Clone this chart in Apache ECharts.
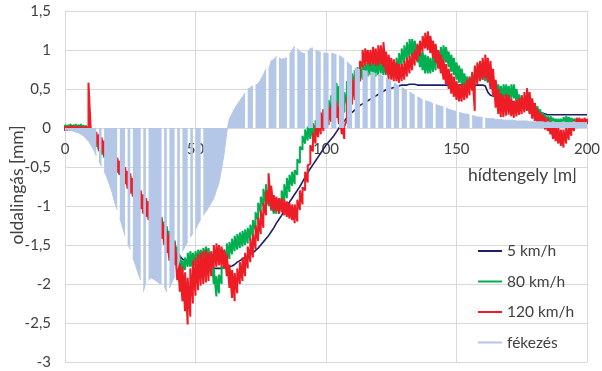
<!DOCTYPE html>
<html><head><meta charset="utf-8">
<script src="https://cdn.jsdelivr.net/npm/echarts@6/dist/echarts.min.js"></script>
<style>html,body{margin:0;padding:0;background:#fff}#c{width:602px;height:371px}</style>
</head><body><div id="c"></div>
<script>
// x positions along the bridge axis [m], one sample per metre (0..200)
const xTicks = [0, 50, 100, 150, 200];
const yTicks = [-3, -2.5, -2, -1.5, -1, -0.5, 0, 0.5, 1, 1.5];
const seriesNames = ['5 km/h', '80 km/h', '120 km/h', 'fékezés'];
const xAxisTitle = 'hídtengely [m]';
const yAxisTitle = 'oldalingás [mm]';

const kmh5 = [
 0.01,0.01,0.01,0.0,0.0,0.0,0.0,0.0,0.0,-0.02,
 -0.06,-0.12,-0.18,-0.24,-0.3,-0.35,-0.39,-0.43,-0.47,-0.51,
 -0.55,-0.59,-0.63,-0.67,-0.71,-0.75,-0.79,-0.83,-0.87,-0.91,
 -0.95,-0.99,-1.03,-1.07,-1.11,-1.15,-1.2,-1.25,-1.3,-1.35,
 -1.4,-1.46,-1.52,-1.58,-1.64,-1.68,-1.7,-1.72,-1.73,-1.74,
 -1.75,-1.76,-1.77,-1.78,-1.78,-1.79,-1.8,-1.8,-1.8,-1.8,
 -1.8,-1.79,-1.79,-1.78,-1.77,-1.75,-1.72,-1.7,-1.68,-1.66,
 -1.64,-1.62,-1.6,-1.57,-1.54,-1.5,-1.46,-1.42,-1.38,-1.33,
 -1.28,-1.22,-1.17,-1.12,-1.06,-1.0,-0.95,-0.9,-0.85,-0.8,
 -0.75,-0.69,-0.63,-0.57,-0.52,-0.47,-0.42,-0.37,-0.32,-0.27,
 -0.22,-0.18,-0.14,-0.1,-0.05,0.0,0.05,0.09,0.13,0.17,
 0.2,0.23,0.26,0.29,0.31,0.33,0.35,0.37,0.39,0.41,
 0.43,0.45,0.47,0.49,0.5,0.51,0.52,0.53,0.54,0.55,
 0.55,0.55,0.56,0.56,0.56,0.55,0.55,0.55,0.55,0.55,
 0.55,0.55,0.55,0.55,0.55,0.55,0.55,0.55,0.55,0.55,
 0.55,0.55,0.55,0.56,0.56,0.56,0.56,0.55,0.55,0.55,
 0.55,0.54,0.46,0.42,0.41,0.4,0.39,0.38,0.37,0.36,
 0.35,0.34,0.33,0.32,0.31,0.3,0.29,0.28,0.27,0.26,
 0.24,0.22,0.2,0.19,0.18,0.17,0.17,0.17,0.17,0.17,
 0.17,0.17,0.17,0.17,0.17,0.17,0.17,0.17,0.17,0.17,0.17
];

const kmh80Low = [
 -0.01,0.0,0.0,0.0,0.01,0.0,0.0,-0.01,-0.02,-0.05,
 -0.1,-0.16,-0.24,-0.3,-0.34,-0.38,-0.42,-0.45,-0.48,-0.52,
 -0.56,-0.6,-0.65,-0.7,-0.76,-0.82,-0.86,-0.9,-0.96,-1.02,
 -1.06,-1.1,-1.14,-1.18,-1.22,-1.26,-1.3,-1.34,-1.4,-1.46,
 -1.52,-1.56,-1.62,-1.7,-1.8,-1.84,-1.82,-1.78,-1.78,-1.8,
 -1.76,-1.72,-1.7,-1.68,-1.66,-1.7,-1.84,-2.0,-2.16,-2.12,
 -2.0,-1.8,-1.72,-1.68,-1.62,-1.58,-1.56,-1.54,-1.52,-1.5,
 -1.48,-1.44,-1.38,-1.3,-1.18,-1.08,-1.0,-0.98,-1.0,-1.06,
 -1.1,-1.1,-1.08,-1.0,-0.94,-0.9,-0.82,-0.74,-0.72,-0.6,
 -0.45,-0.28,-0.2,-0.16,-0.14,-0.12,-0.1,-0.06,-0.02,0.02,
 0.06,0.1,0.16,0.22,0.3,0.28,0.22,0.2,0.3,0.38,
 0.44,0.5,0.56,0.6,0.62,0.64,0.66,0.68,0.66,0.66,
 0.68,0.7,0.68,0.68,0.7,0.7,0.69,0.72,0.76,0.8,
 0.84,0.88,0.9,0.92,0.9,0.84,0.78,0.74,0.7,0.7,
 0.7,0.72,0.74,0.8,0.84,0.86,0.84,0.78,0.72,0.68,
 0.62,0.58,0.56,0.52,0.5,0.5,0.52,0.56,0.6,0.62,
 0.62,0.6,0.58,0.54,0.48,0.42,0.38,0.36,0.38,0.38,
 0.36,0.38,0.38,0.32,0.26,0.24,0.22,0.22,0.2,0.18,
 0.18,0.14,0.1,0.08,0.06,0.06,0.05,0.06,0.05,0.04,
 0.04,0.05,0.06,0.06,0.05,0.06,0.06,0.07,0.06,0.06,0.06
];
const kmh80High = [
 0.04,0.04,0.05,0.04,0.05,0.04,0.05,0.04,0.03,0.01,
 -0.02,-0.05,-0.1,-0.15,-0.18,-0.22,-0.26,-0.3,-0.33,-0.36,
 -0.4,-0.44,-0.48,-0.52,-0.58,-0.62,-0.68,-0.72,-0.76,-0.82,
 -0.86,-0.9,-0.94,-0.98,-1.02,-1.06,-1.1,-1.14,-1.2,-1.26,
 -1.32,-1.38,-1.44,-1.52,-1.64,-1.7,-1.66,-1.6,-1.58,-1.6,
 -1.58,-1.56,-1.56,-1.54,-1.52,-1.54,-1.6,-1.8,-1.9,-1.88,
 -1.78,-1.56,-1.48,-1.46,-1.42,-1.38,-1.36,-1.34,-1.32,-1.3,
 -1.28,-1.24,-1.18,-1.08,-0.96,-0.88,-0.78,-0.72,-0.8,-0.88,
 -0.92,-0.94,-0.9,-0.8,-0.72,-0.64,-0.6,-0.56,-0.54,-0.4,
 -0.24,-0.1,-0.02,0.02,0.04,0.06,0.1,0.14,0.18,0.24,
 0.3,0.36,0.42,0.5,0.58,0.54,0.48,0.46,0.6,0.64,
 0.7,0.74,0.78,0.8,0.82,0.84,0.86,0.86,0.86,0.88,
 0.9,0.9,0.88,0.86,0.86,0.86,0.84,0.9,0.96,1.02,
 1.06,1.1,1.14,1.14,1.12,1.06,1.02,0.98,0.94,0.92,
 0.9,0.92,0.94,1.0,1.04,1.06,1.04,0.98,0.94,0.9,
 0.84,0.8,0.76,0.7,0.66,0.64,0.7,0.76,0.82,0.84,
 0.86,0.84,0.78,0.72,0.66,0.6,0.56,0.54,0.56,0.56,
 0.54,0.56,0.56,0.5,0.43,0.4,0.38,0.36,0.35,0.34,
 0.32,0.28,0.24,0.2,0.17,0.15,0.15,0.13,0.12,0.12,
 0.12,0.14,0.15,0.14,0.13,0.12,0.12,0.11,0.1,0.1,0.1
];

const kmh120Low = [
 -0.04,-0.03,-0.03,-0.02,-0.03,-0.02,-0.03,-0.04,-0.05,-0.08,
 -0.12,-0.16,-0.22,-0.28,-0.32,-0.36,-0.4,-0.44,-0.47,-0.52,
 -0.56,-0.6,-0.66,-0.72,-0.78,-0.84,-0.88,-0.92,-0.98,-1.04,
 -1.1,-1.14,-1.18,-1.22,-1.26,-1.3,-1.36,-1.42,-1.5,-1.6,
 -1.7,-1.72,-1.76,-1.95,-2.1,-2.22,-2.35,-2.52,-2.42,-2.25,
 -2.15,-2.08,-2.02,-2.0,-1.98,-1.96,-1.9,-1.8,-1.78,-1.76,
 -1.78,-1.8,-1.9,-2.05,-2.18,-2.22,-2.12,-2.0,-1.96,-1.9,
 -1.8,-1.72,-1.66,-1.55,-1.45,-1.36,-1.28,-1.12,-0.98,-1.04,
 -1.08,-1.06,-1.1,-1.08,-1.12,-1.14,-1.16,-1.18,-1.22,-1.2,
 -1.05,-0.98,-0.8,-0.7,-0.46,-0.3,-0.2,-0.12,-0.08,-0.04,
 0.0,0.04,0.08,0.12,0.13,0.05,-0.08,-0.14,0.1,0.22,
 0.3,0.36,0.44,0.6,0.78,0.8,0.82,0.8,0.82,0.8,
 0.8,0.82,0.78,0.7,0.62,0.62,0.6,0.6,0.58,0.6,
 0.62,0.66,0.7,0.74,0.8,0.86,0.92,0.98,1.02,1.0,
 0.96,0.9,0.84,0.76,0.7,0.62,0.56,0.5,0.44,0.4,
 0.36,0.34,0.34,0.36,0.38,0.42,0.48,0.22,0.56,0.6,
 0.62,0.64,0.6,0.5,0.4,0.26,0.18,0.14,0.14,0.16,
 0.17,0.15,0.13,0.15,0.17,0.18,0.2,0.22,0.18,0.12,
 0.09,0.05,0.02,0.0,-0.02,-0.04,-0.08,-0.14,-0.17,-0.2,
 -0.23,-0.25,-0.2,-0.15,-0.1,-0.04,0.0,0.02,0.04,0.04,0.05
];
const kmh120High = [
 0.02,0.02,0.03,0.03,0.02,0.03,0.02,0.02,0.03,0.58,
 0.0,-0.04,-0.05,-0.08,-0.12,-0.16,-0.2,-0.24,-0.28,-0.32,
 -0.38,-0.42,-0.46,-0.5,-0.55,-0.58,-0.64,-0.7,-0.74,-0.8,
 -0.85,-0.9,-0.94,-0.98,-1.02,-1.06,-1.1,-1.16,-1.24,-1.32,
 -1.36,-1.4,-1.46,-1.6,-1.74,-1.78,-1.85,-1.92,-1.8,-1.7,
 -1.66,-1.62,-1.6,-1.58,-1.56,-1.6,-1.58,-1.5,-1.48,-1.5,
 -1.52,-1.56,-1.62,-1.75,-1.82,-1.86,-1.8,-1.72,-1.66,-1.6,
 -1.52,-1.42,-1.36,-1.25,-1.15,-1.06,-0.96,-0.8,-0.58,-0.74,
 -0.86,-0.88,-0.9,-0.9,-0.92,-0.94,-0.96,-0.98,-0.98,-0.92,
 -0.8,-0.76,-0.56,-0.48,-0.22,-0.06,0.04,0.12,0.2,0.24,
 0.22,0.26,0.3,0.32,0.34,0.28,0.12,0.02,0.4,0.56,
 0.62,0.66,0.7,0.86,1.0,1.02,1.0,1.0,1.04,1.02,
 1.06,1.06,1.1,0.98,0.94,0.9,0.88,0.84,0.82,0.82,
 0.86,0.9,0.92,0.96,1.0,1.08,1.12,1.18,1.22,1.24,
 1.18,1.12,1.08,1.0,0.94,0.88,0.82,0.76,0.7,0.66,
 0.6,0.56,0.56,0.58,0.62,0.66,0.72,0.8,0.84,0.86,
 0.9,0.94,0.9,0.86,0.76,0.62,0.5,0.44,0.42,0.44,
 0.42,0.38,0.35,0.36,0.38,0.42,0.46,0.51,0.46,0.38,
 0.32,0.24,0.2,0.17,0.14,0.12,0.08,0.05,0.03,0.0,
 -0.02,-0.02,0.0,0.04,0.06,0.1,0.13,0.13,0.12,0.13,0.12
];

const braking = [
 -0.03,-0.02,-0.03,-0.04,-0.05,-0.06,-0.08,-0.1,-0.13,-0.17,
 -0.22,-0.28,-0.36,-0.43,-0.49,-0.55,-0.63,-0.72,-0.82,-0.95,
 -1.05,-1.15,-1.27,-1.38,-1.48,-1.56,-1.66,-1.76,-1.86,-1.95,
 -2.1,-1.97,-1.95,-1.92,-1.94,-1.96,-1.99,-2.0,-2.03,-2.1,
 -2.05,-1.98,-1.9,-1.8,-1.68,-1.58,-1.52,-1.46,-1.4,-1.35,
 -1.3,-1.23,-1.17,-1.12,-1.07,-1.02,-0.96,-0.9,-0.8,-0.7,
 -0.52,-0.32,-0.05,0.12,0.18,0.25,0.3,0.35,0.4,0.45,
 0.5,0.52,0.54,0.55,0.57,0.62,0.68,0.76,0.74,0.86,
 0.88,0.92,0.9,0.88,0.89,0.9,0.94,1.0,1.05,1.02,
 0.98,0.96,0.95,0.98,1.02,1.03,1.0,0.98,0.97,0.96,
 0.96,0.95,0.96,0.95,0.94,0.93,0.91,0.88,0.85,0.82,
 0.79,0.77,0.76,0.75,0.74,0.73,0.73,0.72,0.71,0.7,
 0.69,0.68,0.66,0.64,0.62,0.6,0.58,0.56,0.54,0.52,
 0.5,0.48,0.46,0.44,0.42,0.4,0.38,0.36,0.35,0.34,
 0.33,0.31,0.3,0.29,0.28,0.27,0.26,0.24,0.23,0.22,
 0.21,0.2,0.19,0.18,0.18,0.17,0.16,0.15,0.14,0.14,
 0.13,0.13,0.12,0.12,0.12,0.11,0.11,0.11,0.1,0.1,
 0.1,0.1,0.1,0.09,0.09,0.09,0.09,0.09,0.08,0.08,
 0.08,0.08,0.08,0.08,0.07,0.08,0.07,0.08,0.07,0.07,
 0.07,0.08,0.07,0.07,0.07,0.08,0.07,0.07,0.07,0.07,0.07
];
// positions [m] where the braking record drops out (white gaps in the fill)
const brakingGaps = [
 12.5, 14.5, 20.5, 23.5, 25.5, 29.5, 31.5, 37.5, 39.5, 42.5, 44.5, 47.5, 49.5, 52.5,
 69.5, 72.5, 77.5, 81.5, 85.5, 88.5, 92.5, 95.5, 98.5, 101.5, 104.5, 107.5, 110.5,
 113.5, 116.5, 119.5, 122.5, 125.5, 128.5, 131.5, 134.5, 137.5, 141.5, 145.5,
 150.5, 155.5, 160.5
];

const colors = ['#1c2062', '#00b050', '#ee1c25', '#b4c7e7'];
const FONT = 'Lato';
const TXT = '#404040';

function line(vals) { return vals.map((v, i) => [i, v]); }
function band(lo, hi) {
  const pts = [];
  for (let i = 0; i < lo.length; i++) { pts.push([i, lo[i]]); pts.push([i, hi[i]]); }
  return pts;
}
function withGaps(vals, gaps) {
  const pts = line(vals);
  gaps.forEach(g => pts.push([g, '-']));
  return pts.sort((a, b) => a[0] - b[0]);
}
const fmt = v => String(v).replace('.', ',');

const GRID_TOP = 11, GRID_BOTTOM = 9, H = 371;
const plotH = H - GRID_TOP - GRID_BOTTOM;
const zeroFromBottom = plotH * (0 - yTicks[0]) / (yTicks[yTicks.length - 1] - yTicks[0]);
const brakingData = withGaps(braking, brakingGaps);

const chart = echarts.init(document.getElementById('c'), null, { renderer: 'canvas' });
chart.setOption({
  animation: false,
  backgroundColor: '#fff',
  color: colors,
  grid: { left: 65, right: 15, top: GRID_TOP, bottom: GRID_BOTTOM, containLabel: false, outerBoundsMode: 'none' },
  xAxis: {
    type: 'value', min: xTicks[0], max: xTicks[xTicks.length - 1], interval: 50,
    position: 'bottom', offset: -zeroFromBottom,
    axisLine: { show: true, onZero: false, lineStyle: { color: '#d9d9d9', width: 1 } },
    axisTick: { show: false },
    splitLine: { show: true, lineStyle: { color: '#d9d9d9', width: 1 } },
    axisLabel: { margin: 14, fontFamily: FONT, fontSize: 15, color: TXT, formatter: fmt }
  },
  yAxis: {
    type: 'value', min: yTicks[0], max: yTicks[yTicks.length - 1], interval: 0.5,
    axisLine: { show: true, onZero: false, lineStyle: { color: '#d9d9d9' } },
    axisTick: { show: false },
    splitLine: { show: true, lineStyle: { color: '#d9d9d9', width: 1 } },
    axisLabel: { margin: 14, fontFamily: FONT, fontSize: 15, color: TXT, formatter: fmt }
  },
  legend: {
    orient: 'vertical', left: 477, top: 243, itemWidth: 24, itemHeight: 14, itemGap: 14.5,
    padding: 0, data: seriesNames,
    itemStyle: { opacity: 0 },
    lineStyle: { width: 2 },
    textStyle: { fontFamily: FONT, fontSize: 15.5, color: TXT }
  },
  graphic: [
    { type: 'text', left: 468, top: 166,
      style: { text: xAxisTitle, font: '17.5px Lato', fill: TXT } },
    { type: 'text', x: 17, y: 185, rotation: Math.PI / 2,
      style: { text: yAxisTitle, font: '17.5px Lato', fill: TXT, align: 'center', verticalAlign: 'middle' } }
  ],
  series: [
    { name: seriesNames[0], type: 'line', symbol: 'none', z: 2, data: line(kmh5),
      lineStyle: { color: colors[0], width: 1.6 } },
    { name: seriesNames[1], type: 'line', symbol: 'none', z: 3, data: band(kmh80Low, kmh80High),
      lineStyle: { color: colors[1], width: 2 } },
    { name: seriesNames[2], type: 'line', symbol: 'none', z: 4, data: band(kmh120Low, kmh120High),
      lineStyle: { color: colors[2], width: 2 } },
    { name: 'fékezés (kitöltés)', type: 'line', symbol: 'none', z: 5, connectNulls: false,
      data: brakingData, itemStyle: { color: colors[3] },
      lineStyle: { color: colors[3], width: 0, opacity: 0 },
      areaStyle: { color: colors[3], opacity: 1, origin: 0 } },
    { name: seriesNames[3], type: 'line', symbol: 'none', z: 5, connectNulls: false,
      data: brakingData,
      lineStyle: { color: colors[3], width: 1 } }
  ]
});
</script></body></html>
